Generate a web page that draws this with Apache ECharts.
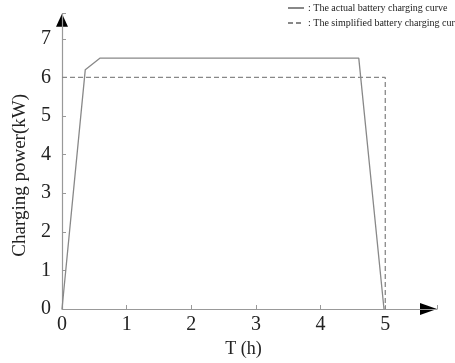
<!DOCTYPE html>
<html>
<head>
<meta charset="utf-8">
<script src="https://cdn.jsdelivr.net/npm/echarts@6/dist/echarts.min.js"></script>
<style>
  html, body { margin: 0; padding: 0; background: #fff; }
  #chart { width: 455px; height: 363px; }
</style>
</head>
<body>
<div id="chart"></div>
<script>
// 曲线数据 [T(h), kW]
var actualCurve = [[0, 0], [0.36, 6.2], [0.59, 6.5], [4.59, 6.5], [4.98, 0]];
var simpleCurve = [[0, 6], [5, 6], [5, 0]];
var seriesNames = [': The actual battery charging curve', ': The simplified battery charging curve'];

var xMax = 5.8, yMax = 7.65;
var font = '"Liberation Serif", "DejaVu Serif", serif';

var chart = echarts.init(document.getElementById('chart'));

function intLabel(v) {
  return Math.abs(v - Math.round(v)) < 1e-6 ? String(Math.round(v)) : '';
}

var option = {
  animation: false,
  backgroundColor: '#fff',
  grid: { left: 62, right: 18, top: 13.7, bottom: 54, containLabel: false },
  legend: {
    orient: 'vertical',
    left: 282,
    top: -2,
    itemWidth: 16,
    itemHeight: 10,
    itemGap: 5,
    itemStyle: { color: 'rgba(0,0,0,0)', borderWidth: 0 },
    textStyle: { fontFamily: font, fontSize: 10, color: '#222', padding: [0, 0, 0, -1] },
    data: seriesNames
  },
  xAxis: {
    type: 'value',
    min: 0,
    max: xMax,
    interval: 1,
    name: 'T (h)',
    nameLocation: 'middle',
    nameGap: 29,
    nameTextStyle: { fontFamily: font, fontSize: 18, color: '#222', padding: [0, 12, 0, 0] },
    splitLine: { show: false },
    axisLine: { lineStyle: { color: '#999', width: 1.2 } },
    axisTick: { inside: true, length: 4, lineStyle: { color: '#999' } },
    axisLabel: { formatter: intLabel, fontFamily: font, fontSize: 20, color: '#222', margin: 6 }
  },
  yAxis: {
    type: 'value',
    min: 0,
    max: yMax,
    interval: 1,
    name: 'Charging power(kW)',
    nameLocation: 'middle',
    nameGap: 32,
    nameTextStyle: { fontFamily: font, fontSize: 19, color: '#222', padding: [0, 28, 0, 0] },
    splitLine: { show: false },
    axisLine: { lineStyle: { color: '#999', width: 1.2 } },
    axisTick: { inside: true, length: 4, lineStyle: { color: '#999' } },
    axisLabel: { formatter: intLabel, fontFamily: font, fontSize: 20, color: '#222', margin: 11 }
  },
  series: [{
    name: seriesNames[0],
    type: 'line',
    symbol: 'none',
    data: actualCurve,
    itemStyle: { color: '#888' },
    lineStyle: { color: '#888', width: 1.3 }
  }, {
    name: seriesNames[1],
    type: 'line',
    symbol: 'none',
    data: simpleCurve,
    itemStyle: { color: '#888' },
    lineStyle: { color: '#888', width: 1.3, type: [5, 3] }
  }]
};
chart.setOption(option);

// 坐标轴箭头
var xe = chart.convertToPixel({ gridIndex: 0 }, [xMax, 0]);
var ye = chart.convertToPixel({ gridIndex: 0 }, [0, yMax]);
chart.setOption({
  graphic: [{
    type: 'polygon',
    shape: { points: [[xe[0], xe[1]], [xe[0] - 17, xe[1] - 6], [xe[0] - 17, xe[1] + 6]] },
    style: { fill: '#000' }
  }, {
    type: 'polygon',
    shape: { points: [[ye[0], ye[1]], [ye[0] - 6, ye[1] + 13], [ye[0] + 6, ye[1] + 13]] },
    style: { fill: '#000' }
  }]
});
</script>
</body>
</html>
